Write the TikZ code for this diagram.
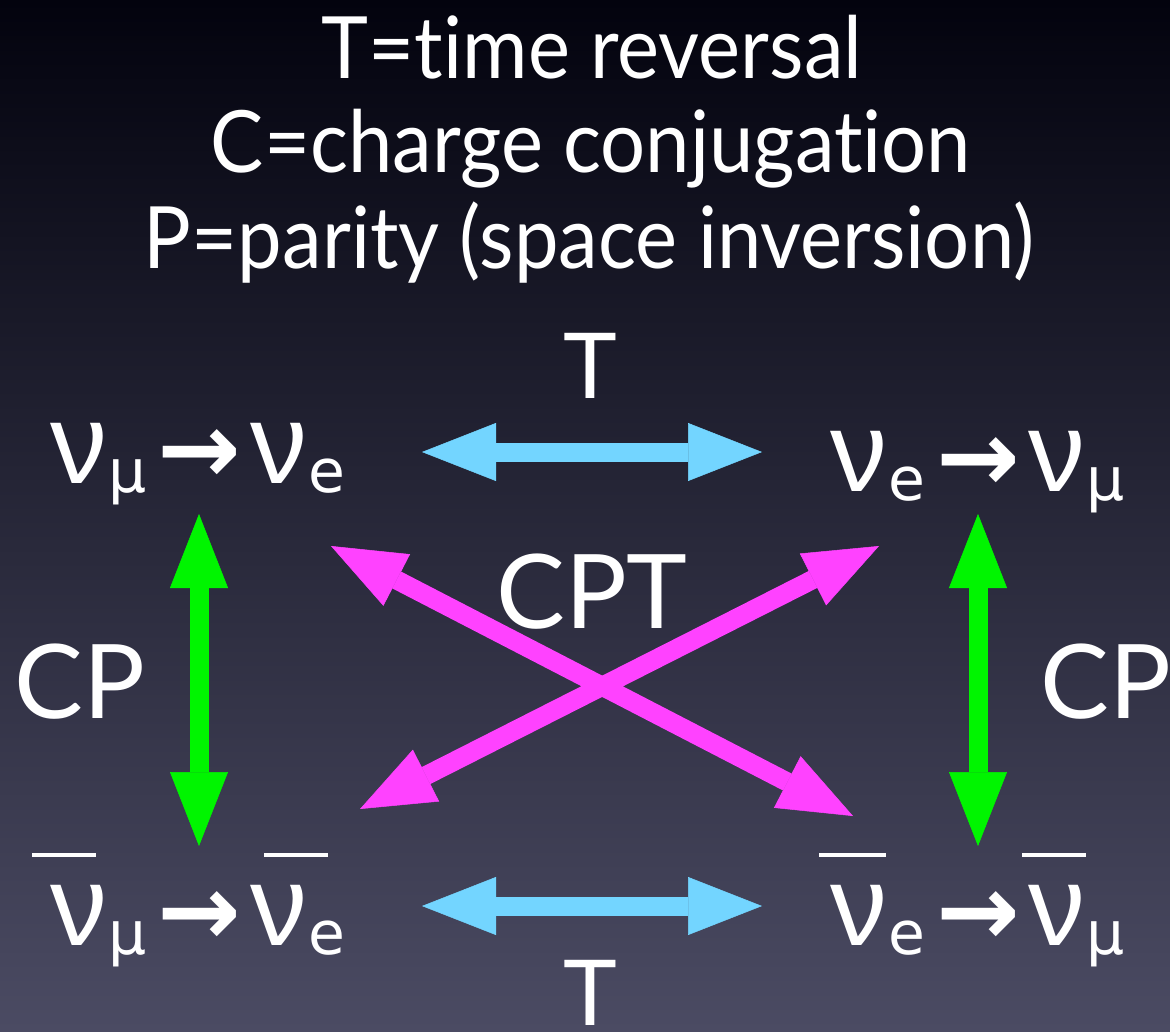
\documentclass[tikz,border=0pt]{standalone}
\usepackage{fontspec}
\setmainfont[Ligatures={NoCommon}]{Lato}
\newfontfamily\titlefont[Ligatures={NoCommon},FakeStretch=0.925]{Lato}
\newfontfamily\djv{DejaVu Sans}
\newfontfamily\djvb{DejaVu Sans Bold}
\newfontfamily\nufont{Liberation Sans}
\usetikzlibrary{arrows.meta}
\definecolor{bgtop}{HTML}{03030E}
\definecolor{bgmid}{HTML}{222239}
\definecolor{bgbot}{HTML}{4B4B63}
\definecolor{cyanA}{HTML}{73D5FF}
\definecolor{greenA}{HTML}{00F500}
\definecolor{magA}{HTML}{FF42FF}
\newcommand\NuBig{\fontsize{114}{118}\selectfont}
\newcommand\ArrBig{\fontsize{100}{110}\selectfont}
\newcommand\NuSmall{\fontsize{60}{64}\selectfont}
\newcommand\NuTerm[1]{{\nufont\NuBig ν}\hspace{1pt}\raisebox{-9pt}{\djv\NuSmall #1}}
\newcommand\NuArrow{\hspace{11pt}{\djvb\ArrBig →}\hspace{9pt}}
\tikzset{
  titletext/.style={text=white, font=\titlefont\fontsize{86}{90}\selectfont, inner sep=0pt, anchor=base},
  biglabel/.style={text=white, font=\fontsize{103}{110}\selectfont, inner sep=0pt, anchor=base},
  tlabel/.style={text=white, font=\fontsize{91}{96}\selectfont, inner sep=0pt, anchor=base},
  nulabel/.style={text=white, inner sep=0pt, anchor=base west},
  barline/.style={white, line width=4.5pt},
  fatarrow/.style={line width=19pt,
    arrows={Triangle[length=74pt,width=58pt,line width=0.5pt]-Triangle[length=74pt,width=58pt,line width=0.5pt]}},
}
\begin{document}
\begin{tikzpicture}[x=1pt,y=-1pt]
\shade[top color=bgtop, middle color=bgmid, bottom color=bgbot] (0,0) rectangle (1170,1031);
\useasboundingbox (0,0) rectangle (1170,1031);

% title
\node[titletext] (t1) at (592,78) {T=time reversal};
\node[titletext] (t2) at (591,172) {C=charge conjugation};
\node[titletext] (t3) at (589,268) {P=parity (space inversion)};

% arrow end points
\coordinate (cT1) at (422,452); \coordinate (cT2) at (762,452);
\coordinate (cB1) at (422,906); \coordinate (cB2) at (762,906);
\coordinate (gL1) at (199,514); \coordinate (gL2) at (199,846);
\coordinate (gR1) at (978,514); \coordinate (gR2) at (978,846);
\coordinate (m1) at (331,546); \coordinate (m2) at (853,816);
\coordinate (m3) at (360,809); \coordinate (m4) at (879,546);

\draw[fatarrow, cyanA] (cT1) -- (cT2);
\draw[fatarrow, cyanA] (cB1) -- (cB2);
\draw[fatarrow, greenA] (gL1) -- (gL2);
\draw[fatarrow, greenA] (gR1) -- (gR2);
\draw[fatarrow, magA] (m1) -- (m2);
\draw[fatarrow, magA] (m3) -- (m4);

% labels
\node[tlabel] (Ttop) at (590,398) {T};
\node[tlabel] (Tbot) at (590,1025) {T};
\node[biglabel] (cpt) at (592,628) {CPT};
\node[biglabel] (cpl) at (80,718) {CP};
\node[biglabel] (cpr) at (1106,718) {CP};

% neutrino states
\node[nulabel] (tl) at (50,483) {\NuTerm{μ}\NuArrow\NuTerm{e}};
\node[nulabel] (tr) at (830,491) {\NuTerm{e}\NuArrow\NuTerm{μ}};
\node[nulabel] (bl) at (50,945) {\NuTerm{μ}\NuArrow\NuTerm{e}};
\node[nulabel] (br) at (830,945) {\NuTerm{e}\NuArrow\NuTerm{μ}};

% antiparticle bars
\draw[barline] (32,855) -- (96,855);
\draw[barline] (264,855) -- (328,855);
\draw[barline] (819,855) -- (886,855);
\draw[barline] (1022,855) -- (1086,855);
\end{tikzpicture}
\end{document}
